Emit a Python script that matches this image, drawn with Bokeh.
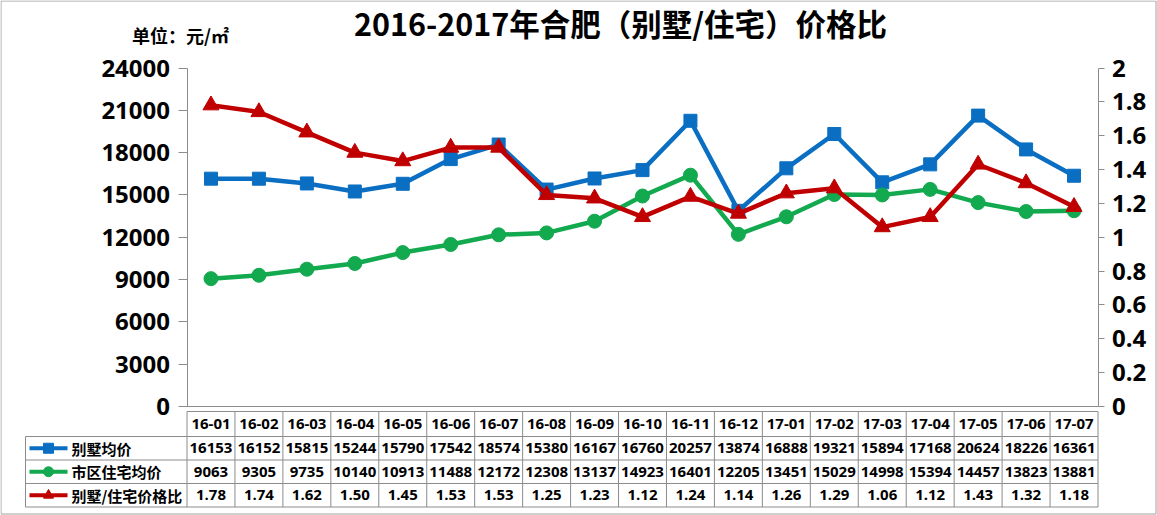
from bokeh.plotting import figure
from bokeh.models import ColumnDataSource, Range1d, LinearAxis, FixedTicker, NumeralTickFormatter
from bokeh.core.properties import value
from bokeh.embed import file_html
from bokeh.resources import INLINE

# ---------------- data ----------------
months = ["16-01", "16-02", "16-03", "16-04", "16-05", "16-06", "16-07", "16-08", "16-09", "16-10",
          "16-11", "16-12", "17-01", "17-02", "17-03", "17-04", "17-05", "17-06", "17-07"]
villa = [16153, 16152, 15815, 15244, 15790, 17542, 18574, 15380, 16167, 16760,
         20257, 13874, 16888, 19321, 15894, 17168, 20624, 18226, 16361]
resid = [9063, 9305, 9735, 10140, 10913, 11488, 12172, 12308, 13137, 14923,
         16401, 12205, 13451, 15029, 14998, 15394, 14457, 13823, 13881]
ratio = [1.78, 1.74, 1.62, 1.50, 1.45, 1.53, 1.53, 1.25, 1.23, 1.12,
         1.24, 1.14, 1.26, 1.29, 1.06, 1.12, 1.43, 1.32, 1.18]
series_names = ["别墅均价", "市区住宅均价", "别墅/住宅价格比"]
title_text = "2016-2017年合肥（别墅/住宅）价格比"
unit_text = "单位：元/㎡"
left_ticks = [0, 3000, 6000, 9000, 12000, 15000, 18000, 21000, 24000]
right_ticks = [0, 0.2, 0.4, 0.6, 0.8, 1.0, 1.2, 1.4, 1.6, 1.8, 2.0]

# ---------------- layout (page pixels) ----------------
W, H = 1157, 515
PX0 = 0
AX_L, AX_R = 186.5, 1097.5
Y0, YTOP = 406.0, 67.5
n = len(months)
colw = (AX_R - AX_L) / n
x_start = (PX0 - AX_L) / colw
x_end = (PX0 + W - AX_L) / colw
lmax, rmax = left_ticks[-1], right_ticks[-1]
ys = lmax / (Y0 - YTOP)
rs = rmax / (Y0 - YTOP)
y_end = (Y0 - PX0) * ys
y_start = -(PX0 + H - Y0) * ys
r_end = (Y0 - PX0) * rs
r_start = -(PX0 + H - Y0) * rs

BLUE = "#0A6FC2"
GREEN = "#12A94F"
RED = "#C00000"
GRID = "#8C8C8C"
NUMFONT = value("Open Sans")
CJKFONT = value("Noto Sans CJK SC")

p = figure(width=W, height=H, x_range=Range1d(x_start, x_end), y_range=Range1d(y_start, y_end),
           output_backend="svg", toolbar_location=None, tools="",
           x_axis_location=None, y_axis_location=None, min_border=0)
p.extra_y_ranges = {"right": Range1d(r_start, r_end), "py": Range1d(PX0 + H, PX0)}
p.extra_x_ranges = {"px": Range1d(PX0, PX0 + W)}
p.grid.visible = False
p.outline_line_color = None
p.background_fill_color = "white"
p.border_fill_color = "white"


def style_axis(ax, tick_out):
    ax.axis_line_color = GRID
    ax.axis_line_width = 1
    ax.major_tick_line_color = GRID
    ax.major_tick_out = tick_out
    ax.major_tick_in = 0
    ax.minor_tick_out = 0
    ax.minor_tick_in = 0
    ax.major_label_text_font = "Open Sans"
    ax.major_label_text_font_style = "bold"
    ax.major_label_text_font_size = "24px"
    ax.major_label_text_color = "black"
    ax.major_label_standoff = 8


la = LinearAxis(fixed_location=0, bounds=(0, lmax), ticker=FixedTicker(ticks=left_ticks),
                formatter=NumeralTickFormatter(format="0"))
style_axis(la, 9)
p.add_layout(la, "left")

ra = LinearAxis(y_range_name="right", fixed_location=n, bounds=(0, rmax),
                ticker=FixedTicker(ticks=right_ticks), formatter=NumeralTickFormatter(format="0.[0]"))
style_axis(ra, 6)
p.add_layout(ra, "right")

# outer border of the picture
p.segment(x0=[0.5, 0.5, 0.5, W - 1.5], y0=[0.5, H - 1.5, 0.5, 0.5],
          x1=[W - 1.5, W - 1.5, 0.5, W - 1.5], y1=[0.5, H - 1.5, H - 1.5, H - 1.5],
          line_color="#A0A0A0", line_width=1, x_range_name="px", y_range_name="py")

# category axis line
p.segment(x0=[0], y0=[0], x1=[n], y1=[0], line_color=GRID, line_width=1)

# ---------------- series ----------------
xs = [i + 0.5 for i in range(n)]
p.line(xs, villa, line_color=BLUE, line_width=4.5)
p.scatter(xs, villa, marker="square", size=13, fill_color=BLUE, line_color=BLUE)
p.line(xs, resid, line_color=GREEN, line_width=4.5)
p.scatter(xs, resid, marker="circle", size=14, fill_color=GREEN, line_color=GREEN)
p.line(xs, ratio, line_color=RED, line_width=4.5, y_range_name="right")
p.scatter(xs, ratio, marker="triangle", size=16, fill_color=RED, line_color=RED, y_range_name="right")

# ---------------- data table ----------------
T_TOP = 411.0
row_lines = [436.0, 459.5, 483.0, 506.5]
LEG_L = 25.0
# horizontal lines
p.segment(x0=[AX_L], y0=[T_TOP], x1=[AX_R], y1=[T_TOP], line_color=GRID, line_width=1,
          x_range_name="px", y_range_name="py")
p.segment(x0=[LEG_L] * len(row_lines), y0=row_lines, x1=[AX_R] * len(row_lines), y1=row_lines,
          line_color=GRID, line_width=1, x_range_name="px", y_range_name="py")
# vertical lines
vx = list(range(n + 1))
p.segment(x0=vx, y0=[T_TOP] * len(vx), x1=vx, y1=[row_lines[-1]] * len(vx),
          line_color=GRID, line_width=1, y_range_name="py")
p.segment(x0=[LEG_L], y0=[row_lines[0]], x1=[LEG_L], y1=[row_lines[-1]],
          line_color=GRID, line_width=1, x_range_name="px", y_range_name="py")

row_centers = [(T_TOP + row_lines[0]) / 2] + [(row_lines[i] + row_lines[i + 1]) / 2 for i in range(3)]
row_texts = [months, [str(v) for v in villa], [str(v) for v in resid], [f"{v:.2f}" for v in ratio]]
for yc, texts in zip(row_centers, row_texts):
    src = ColumnDataSource(dict(x=xs, y=[yc] * n, t=texts))
    p.text(x="x", y="y", text="t", source=src, y_range_name="py",
           text_font=NUMFONT, text_font_style="bold", text_font_size="15px",
           text_align="center", text_baseline="middle", text_color="black")

# legend column
colors = [BLUE, GREEN, RED]
markers = ["square", "circle", "triangle"]
for i, (name, c, m) in enumerate(zip(series_names, colors, markers)):
    yc = row_centers[i + 1]
    p.segment(x0=[29], y0=[yc], x1=[67], y1=[yc], line_color=c, line_width=4,
              x_range_name="px", y_range_name="py")
    p.scatter(x=[48], y=[yc], marker=m, size=10, fill_color=c, line_color=c,
              x_range_name="px", y_range_name="py")
    p.text(x=[71], y=[yc], text=[name], x_range_name="px", y_range_name="py",
           text_font=CJKFONT, text_font_style="bold", text_font_size="15px",
           text_align="left", text_baseline="middle", text_color="black")

# title and unit
p.text(x=[620], y=[22], text=[title_text], x_range_name="px", y_range_name="py",
       text_font=CJKFONT, text_font_style="bold", text_font_size="30.5px",
       text_align="center", text_baseline="middle", text_color="black")
p.text(x=[180], y=[34], text=[unit_text], x_range_name="px", y_range_name="py",
       text_font=CJKFONT, text_font_style="bold", text_font_size="18px",
       text_align="center", text_baseline="middle", text_color="black")

open("out.html", "w").write(file_html(p, INLINE))
